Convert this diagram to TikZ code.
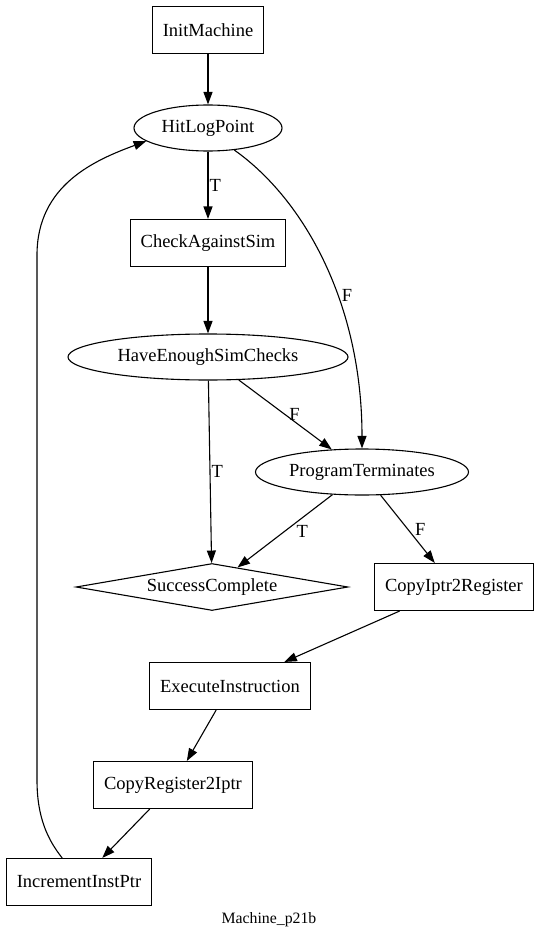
\documentclass[tikz,border=0pt]{standalone}
\usepackage{fontspec}
\setmainfont{Liberation Serif}
\usetikzlibrary{arrows.meta,shapes.geometric}
\definecolor{edgec}{HTML}{000000}

\begin{document}
\begin{tikzpicture}[
  x=1pt, y=-1pt,
  font=\fontsize{18.5}{22}\selectfont,
  >={Triangle[length=12.5pt,width=9pt]},
  stepbox/.style={rectangle, draw=edgec, line width=1.1pt, inner xsep=10.5pt,
                  inner ysep=0pt, minimum height=47pt},
  test/.style={ellipse, draw=edgec, line width=1.1pt, inner sep=0pt,
               minimum height=46pt},
  goal/.style={diamond, draw=edgec, line width=1.1pt, aspect=5.8, inner sep=0pt,
               minimum width=272pt, minimum height=47pt},
  flow/.style={->, draw=edgec, line width=1.1pt},
  lbl/.style={inner sep=0pt},
  caption/.style={font=\fontsize{15.8}{18}\selectfont, inner sep=0pt},
]
\useasboundingbox (0,0) rectangle (539,939);

% ---- nodes ----
\node[stepbox] (initm) at (208,30) {InitMachine};
\node[test, minimum width=148pt] (hitlog) at (208,128) {HitLogPoint};
\node[stepbox] (check) at (208,243) {CheckAgainstSim};
\node[test, minimum width=280pt] (enough) at (208,357) {HaveEnoughSimChecks};
\node[test, minimum width=213pt] (progterm) at (362,472) {ProgramTerminates};
\node[goal] (success) at (212,587) {SuccessComplete};
\node[stepbox] (cpyi2r) at (454,587) {CopyIptr2Register};
\node[stepbox] (exec) at (230,686) {ExecuteInstruction};
\node[stepbox] (cpyr2i) at (173,785) {CopyRegister2Iptr};
\node[stepbox] (incptr) at (79,882) {IncrementInstPtr};

\node[caption] (title) at (269,920) {Machine\_p21b};

% ---- edges ----
\draw[flow] (initm) -- (hitlog);
\draw[flow] (hitlog) -- node[lbl, midway, right=1pt] {T} (check);
\draw[flow] (hitlog.-40) .. controls (305,200) and (362,305) ..
  node[lbl, pos=0.6, right=4pt] {F} (progterm.north);
\draw[flow] (check) -- (enough);
\draw[flow] (enough) -- node[lbl, pos=0.6, above=1pt] {F} (progterm);
\draw[flow] (enough) -- node[lbl, midway, right=1pt] {T} (success);
\draw[flow] (progterm) -- node[lbl, midway, right=11pt] {T} (success);
\draw[flow] (progterm) -- node[lbl, midway, right=7pt] {F} (cpyi2r);
\draw[flow] (cpyi2r) -- (exec);
\draw[flow] (exec) -- (cpyr2i);
\draw[flow] (cpyr2i) -- (incptr);

% ---- loop back ----
\draw[flow] (incptr.125) .. controls (48,840) and (37,818) .. (37,780)
  -- (37,255) .. controls (37,185) and (95,160) .. (hitlog.192);
\end{tikzpicture}
\end{document}
